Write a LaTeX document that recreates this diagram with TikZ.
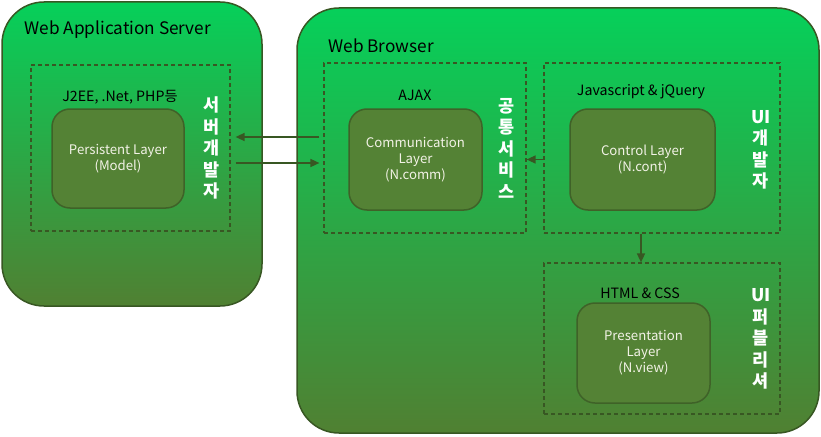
\documentclass[tikz,border=0pt]{standalone}
\usepackage{fontspec}
\setmainfont{Noto Sans CJK KR}
\usetikzlibrary{arrows.meta}
\definecolor{topgreen}{RGB}{6,208,90}
\definecolor{botgreen}{RGB}{80,128,50}
\definecolor{boxfill}{RGB}{84,130,53}
\definecolor{boxline}{RGB}{63,98,40}
\definecolor{darkline}{RGB}{56,87,35}
\definecolor{boxtext}{RGB}{242,242,230}
\tikzset{
  outerbox/.style={draw=darkline, line width=1.5pt, rounded corners=42pt,
    top color=topgreen, bottom color=botgreen},
  dashbox/.style={draw=darkline, line width=1.2pt, dash pattern=on 4pt off 3pt},
  layerbox/.style={draw=boxline, line width=1.5pt, fill=boxfill, rounded corners=18pt,
    text=boxtext, align=center, font=\fontsize{13.2}{16}\selectfont},
  title/.style={anchor=west, font=\fontsize{17.2}{20}\selectfont},
  tech/.style={font=\fontsize{14.2}{16}\selectfont},
  role/.style={text=white, align=center, font=\bfseries\fontsize{17.5}{21.5}\selectfont},
  arr/.style={draw=darkline, line width=1.5pt, -{Triangle[length=9pt,width=8pt]}}
}
\begin{document}
\begin{tikzpicture}[x=1pt, y=-1pt]
\useasboundingbox (0,0) rectangle (821,436);
% outer boxes
\node[outerbox, minimum width=260pt, minimum height=304pt] (server) at (132,154){};
\node[outerbox, minimum width=522pt, minimum height=425pt] (browser) at (558,220.5){};
\node[title] (serverTitle) at (21,30){Web Application Server};
\node[title] (browserTitle) at (325,46){Web Browser};
% server side
\node[dashbox, minimum width=199pt, minimum height=166pt] (serverDash) at (130.5,148){};
\node[layerbox, minimum width=132pt, minimum height=99pt] (persist) at (118,158.5){Persistent Layer\\(Model)};
\node[tech] (j2ee) at (120,97){J2EE, .Net, PHP등};
\node[role] (serverDev) at (212,148){서\\버\\개\\발\\자};
% browser side
\node[dashbox, minimum width=202pt, minimum height=170pt] (ajaxDash) at (425,148){};
\node[layerbox, minimum width=133pt, minimum height=101pt] (comm) at (415.5,159.5){Communication\\Layer\\(N.comm)};
\node[tech] (ajax) at (415,95){AJAX};
\node[role] (commDev) at (507,148){공\\통\\서\\비\\스};
\node[dashbox, minimum width=236pt, minimum height=170pt] (jsDash) at (662,148){};
\node[layerbox, minimum width=145pt, minimum height=101pt] (cont) at (642.5,159.5){Control Layer\\(N.cont)};
\node[tech] (js) at (641,92){Javascript \& jQuery};
\node[role] (uiDev) at (761,150){UI\\개\\발\\자};
\node[dashbox, minimum width=236pt, minimum height=151pt] (htmlDash) at (662,338.5){};
\node[layerbox, minimum width=133pt, minimum height=100pt] (view) at (643.5,353){Presentation\\Layer\\(N.view)};
\node[tech] (html) at (640,293){HTML \& CSS};
\node[role] (uiPub) at (761,339){UI\\퍼\\블\\리\\셔};
% arrows
\draw[arr, shorten <=4pt, shorten >=5pt] ([yshift=11pt]ajaxDash.west) -- ([yshift=11pt]serverDash.east);
\draw[arr, shorten <=5pt, shorten >=4pt] ([yshift=-15pt]serverDash.east) -- ([yshift=-15pt]ajaxDash.west);
\draw[arr] (jsDash.west |- cont) -- (ajaxDash.east |- cont);
\draw[arr] (js |- jsDash.south) -- (js |- htmlDash.north);
\end{tikzpicture}
\end{document}
